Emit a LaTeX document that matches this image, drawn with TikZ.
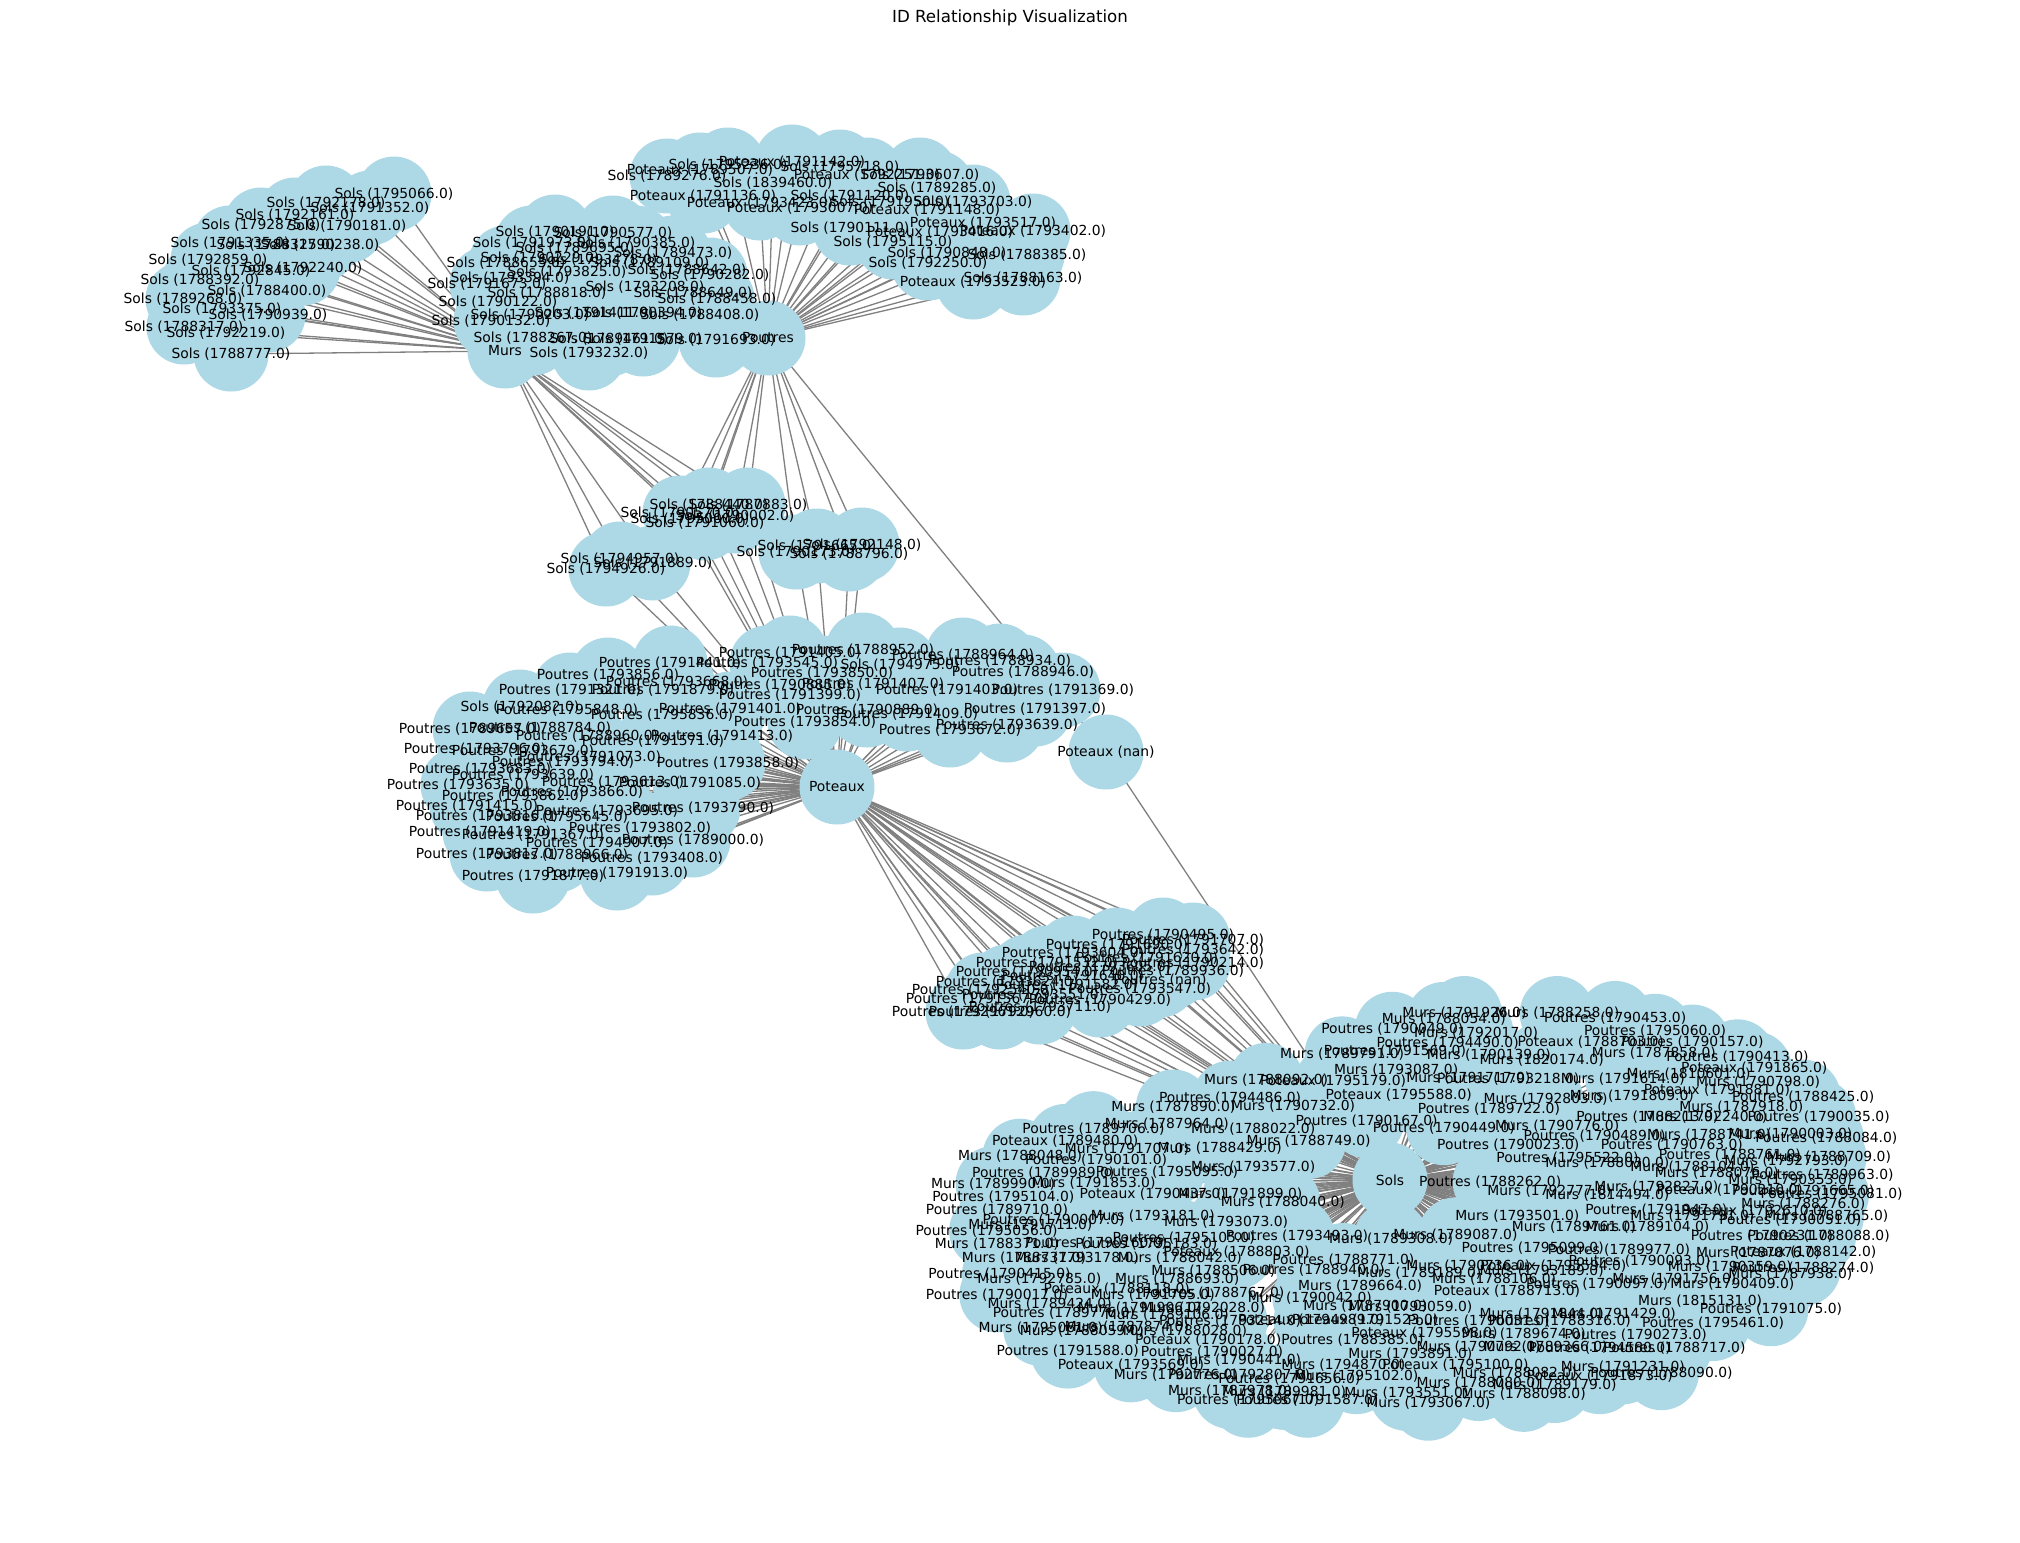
\documentclass[tikz,border=0pt]{standalone}
\usepackage{fontspec}
\setmainfont{DejaVu Sans}
\definecolor{nodeblue}{HTML}{ADD8E6}
\definecolor{edgegray}{HTML}{808080}
\tikzset{
  circ/.style={circle,fill=nodeblue,draw=none,minimum size=37.5pt,inner sep=0pt},
  lbl/.style={inner sep=0pt,text=black,font=\fontsize{6.94}{7}\selectfont},
  edge/.style={draw=edgegray,line width=0.65pt},
  ttl/.style={inner sep=0pt,font=\fontsize{8.33}{9}\selectfont}
}
\def\typeS{Sols}\def\typeP{Poutres}\def\typeM{Murs}\def\typeT{Poteaux}
\newcommand{\defpts}[2]{\foreach \px/\py/\pt/\pid [count=\pc] in #2 {\coordinate (#1\pc) at (\px,\py);}}
\newcommand{\drawedges}[3]{\foreach \px/\py/\pt/\pid [count=\pc] in #2 {\foreach \hh in {#3} {\draw[edge] (#1\pc) -- (\hh);}}}
\newcommand{\drawcircs}[2]{\foreach \px/\py/\pt/\pid [count=\pc] in #2 {\node[circ] (c#1\pc) at (#1\pc) {};}}
\newcommand{\drawlabels}[2]{\foreach \px/\py/\pt/\pid [count=\pc] in #2 {\node[lbl] (l#1\pc) at (#1\pc) {\csname type\pt\endcsname\ (\pid)};}}
% cluster data
\def\listA{394/194/S/1795066.0, 326/203/S/1792178.0, 370/208/S/1791352.0, 295/215/S/1792161.0, 261/225/S/1792875.0, 347/226/S/1790181.0, 230/243/S/1791335.0, 276/245/S/1788325.0, 320/245/S/1790238.0, 208/260/S/1792859.0, 251/271/S/1792845.0, 303/268/S/1792240.0, 200/280/S/1788392.0, 267/291/S/1788400.0, 183/299/S/1789268.0, 222/309/S/1793375.0, 268/315/S/1790939.0, 184/327/S/1788317.0, 226/333/S/1792219.0, 231/354/S/1788777.0}
\def\listB{555/232/S/1790191.0, 613/233/S/1790577.0, 532/243/S/1791973.0, 636/243/S/1790385.0, 575/248/S/1789695.0, 673/253/S/1789473.0, 506/263/S/1788655.0, 540/258/S/1790229.0, 598/260/S/1793478.0, 650/263/S/1789109.0, 510/278/S/1793394.0, 567/272/S/1793825.0, 687/270/S/1788642.0, 487/284/S/1791673.0, 645/287/S/1793208.0, 710/275/S/1790282.0, 547/293/S/1788818.0, 693/293/S/1788649.0, 498/302/S/1790122.0, 717/299/S/1788458.0, 491/321/S/1790132.0, 530/315/S/1790203.0, 594/313/S/1791411.0, 643/313/S/1790394.0, 700/315/S/1788408.0, 533/338/S/1788267.0, 609/339/S/1789461.0, 643/339/S/1791579.0, 716/340/S/1791693.0, 589/353/S/1793232.0}
\def\listC{792/162/T/1791142.0, 728/165/S/1795236.0, 700/170/T/1789507.0, 840/167/S/1795718.0, 667/176/S/1789276.0, 867/175/T/1792251.0, 920/175/S/1793607.0, 773/183/S/1839460.0, 937/188/S/1789285.0, 703/196/T/1791136.0, 850/196/S/1791120.0, 760/203/T/1793423.0, 890/202/S/1791950.0, 973/202/S/1793703.0, 800/208/T/1793007.0, 927/210/T/1791148.0, 983/223/T/1793517.0, 850/228/S/1790111.0, 940/232/T/1793416.0, 1033/231/T/1793402.0, 893/242/S/1795115.0, 947/253/S/1790848.0, 1027/255/S/1788385.0, 928/263/S/1792250.0, 1023/278/S/1788163.0, 973/282/T/1793523.0}
\def\listD{709/505/S/1788440.0, 748/505/S/1787883.0, 680/513/S/1790570.0, 735/516/S/1790002.0, 705/523/S/1791060.0, 690/519/S/1795000.0}
\def\listDL{620/559/S/1794957.0, 653/563/S/1791889.0, 606/569/S/1794926.0}
\def\listDR{862/545/S/1792148.0, 817/546/S/1791665.0, 849/554/S/1788796.0, 796/552/S/1790173.0}
\def\listE{670/663/P/1791441.0, 767/663/P/1793545.0, 790/653/P/1791405.0, 863/650/P/1788952.0, 963/655/P/1788964.0, 900/665/S/1794975.0, 1000/661/P/1788934.0, 822/673/P/1793850.0, 1023/672/P/1788946.0, 873/684/P/1791407.0, 780/685/P/1790885.0, 790/695/P/1791399.0, 947/690/P/1791403.0, 1063/690/P/1791369.0, 867/710/P/1790889.0, 907/714/P/1791409.0, 1035/709/P/1791397.0, 805/722/P/1793854.0, 1007/725/P/1793639.0, 950/730/P/1793672.0, 722/736/P/1791413.0, 608/675/P/1793856.0, 677/682/P/1793668.0, 570/690/P/1791321.0, 663/690/P/1791879.0, 730/709/P/1791401.0, 520/707/S/1792082.0, 567/710/P/1795848.0, 662/715/P/1795836.0, 540/728/P/1788784.0, 587/736/P/1788960.0, 653/741/P/1791571.0, 470/729/P/1789657.0, 475/749/P/1793796.0, 523/751/P/1793679.0, 590/757/P/1791073.0, 563/762/P/1793794.0, 728/763/P/1793858.0, 480/769/P/1793683.0, 523/775/P/1793639.0, 458/785/P/1793635.0, 613/782/P/1793613.0, 690/783/P/1791085.0, 572/792/P/1793866.0, 513/796/P/1793862.0, 703/808/P/1793790.0, 467/806/P/1791415.0, 607/811/P/1793695.0, 557/817/P/1795645.0, 487/816/P/1793816.0, 640/828/P/1793802.0, 480/832/P/1791419.0, 533/835/P/1791367.0, 597/843/P/1794907.0, 693/840/P/1789000.0, 487/854/P/1793817.0, 557/855/P/1788966.0, 652/858/P/1793408.0, 533/876/P/1791877.0, 617/873/P/1791913.0}
\def\listF{1163/935/P/1790495.0, 1193/940/P/1791707.0, 1117/945/P/1791690.0, 1193/950/P/1793642.0, 1073/953/P/1793604.0, 1147/958/P/1791620.0, 1193/963/P/1790214.0, 1047/963/P/1791532.0, 1100/967/P/1793605.0, 1173/971/P/1789936.0, 1027/972/P/1790954.0, 1073/976/P/1791640.0, 1160/980/P/nan, 1007/982/P/1793624.0, 1067/985/P/1791582.0, 1140/989/P/1793547.0, 983/990/P/1792540.0, 1033/995/P/1793551.0, 1100/1000/P/1790429.0, 977/999/P/1791567.0, 1040/1007/P/1793711.0, 1000/1012/P/1792960.0, 963/1012/P/1792961.0}
\def\listG{1137/1030/M/1791926.0, 1209/1030/M/1788258.0, 1254/1035/P/1790453.0, 1121/1036/M/1788054.0, 1081/1046/P/1790049.0, 1285/1048/P/1795060.0, 1146/1050/M/1792017.0, 1235/1059/T/1788703.0, 1314/1059/P/1790157.0, 1124/1060/P/1794490.0, 1083/1068/P/1791569.0, 1042/1071/M/1789791.0, 1156/1072/M/1790139.0, 1197/1077/M/1820174.0, 1284/1070/M/1787858.0, 1349/1074/P/1790413.0, 1362/1086/T/1791865.0, 1084/1088/M/1793087.0, 1140/1096/M/1791717.0, 1171/1097/P/1793218.0, 1260/1097/M/1791614.0, 1311/1092/M/1810601.0, 1365/1100/M/1790798.0, 1086/1113/T/1795588.0, 1200/1117/M/1792803.0, 1267/1114/M/1791809.0, 1333/1108/T/1791881.0, 1400/1115/P/1788425.0, 1156/1127/P/1789722.0, 1352/1125/M/1787918.0, 1061/1139/P/1790167.0, 1121/1146/P/1790449.0, 1209/1144/M/1790776.0, 1279/1135/P/1788213.0, 1324/1135/M/1792240.0, 1412/1135/P/1790035.0, 1171/1164/P/1790023.0, 1238/1155/P/1790489.0, 1327/1154/M/1788741.0, 1390/1153/M/1790003.0, 1418/1157/P/1788084.0, 1298/1164/P/1790763.0, 1217/1177/P/1795522.0, 1343/1174/P/1788761.0, 1420/1176/M/1788709.0, 1248/1182/M/1788030.0, 1314/1186/M/1788104.0, 1387/1180/M/1792793.0, 1333/1192/M/1788076.0, 1415/1194/P/1789963.0, 1157/1201/P/1788262.0, 1390/1199/M/1790353.0, 1203/1210/M/1792777.0, 1286/1206/M/1792827.0, 1343/1209/T/1790210.0, 1400/1210/P/1791665.0, 1422/1214/P/1795081.0, 1248/1215/M/1814494.0, 1400/1224/M/1788276.0, 1286/1230/P/1791947.0, 1362/1231/T/1792610.0, 1418/1236/M/1788765.0, 1178/1236/M/1793501.0, 1314/1236/M/1791791.0, 1390/1240/P/1790051.0, 1222/1247/M/1789761.0, 1279/1247/M/1789104.0, 1130/1255/M/1789087.0, 1080/1259/M/1789308.0, 1368/1256/P/1790231.0, 1412/1256/P/1788088.0, 1190/1268/P/1795099.0, 1257/1270/P/1789977.0, 1365/1274/M/1787876.0, 1400/1272/T/1788142.0, 1140/1287/M/1790736.0, 1206/1287/T/1795594.0, 1273/1282/P/1790093.0, 1343/1288/M/1790359.0, 1400/1289/P/1788274.0, 1102/1294/M/1789189.0, 1197/1292/M/1793189.0, 983/1098/M/1788092.0, 1035/1099/T/1795179.0, 955/1116/P/1794486.0, 911/1125/M/1787890.0, 1004/1124/M/1790732.0, 849/1147/P/1789706.0, 906/1142/M/1787964.0, 973/1147/M/1788022.0, 827/1160/T/1789480.0, 1016/1160/M/1788749.0, 875/1168/M/1791707.0, 947/1167/M/1788429.0, 792/1175/M/1788048.0, 851/1179/P/1790101.0, 810/1192/P/1789989.0, 906/1191/P/1795095.0, 973/1186/M/1793577.0, 771/1203/M/1789990.0, 849/1202/M/1791853.0, 779/1217/P/1795104.0, 895/1214/T/1790437.0, 963/1214/M/1791899.0, 996/1222/M/1788040.0, 774/1230/P/1789710.0, 818/1240/P/1790007.0, 895/1236/M/1793181.0, 952/1242/M/1793073.0, 766/1251/P/1795056.0, 800/1245/M/1791711.0, 919/1258/P/1795105.0, 1007/1256/P/1793493.0, 774/1264/M/1788371.0, 851/1263/P/1790160.0, 890/1264/P/1795183.0, 960/1272/T/1788803.0, 795/1279/M/1788737.0, 836/1279/M/1793178.0, 916/1279/M/1788042.0, 1043/1281/P/1788771.0, 776/1295/P/1790415.0, 942/1292/M/1788506.0, 1020/1291/P/1788940.0, 807/1300/M/1792785.0, 914/1300/M/1788693.0, 1056/1307/M/1789664.0, 867/1310/T/1788118.0, 774/1316/P/1790017.0, 895/1316/M/1791705.0, 942/1314/P/1788767.0, 1017/1319/M/1790042.0, 815/1325/M/1789424.0, 885/1329/M/1791906.0, 934/1329/M/1792028.0, 826/1334/P/1789776.0, 906/1336/M/1789106.0, 1060/1327/M/1787900.0, 1095/1328/M/1793059.0, 1197/1335/M/1791844.0, 1253/1335/M/1791429.0, 808/1350/M/1795061.0, 875/1349/M/1787874.0, 955/1343/P/1793214.0, 1018/1342/T/1794989.0, 1060/1342/T/1791523.0, 1148/1343/P/1790031.0, 1211/1343/P/1788316.0, 840/1353/M/1788059.0, 920/1353/M/1788028.0, 1106/1355/T/1795598.0, 1183/1356/M/1789674.0, 1270/1357/P/1790273.0, 938/1362/T/1790178.0, 1050/1362/P/1788385.0, 829/1373/P/1791588.0, 941/1374/P/1790027.0, 1148/1369/M/1790792.0, 1200/1369/M/1789366.0, 1242/1370/P/1794580.0, 878/1387/T/1793569.0, 962/1382/M/1790441.0, 1043/1387/M/1794870.0, 1095/1376/M/1793891.0, 1130/1387/T/1795100.0, 1260/1389/M/1791231.0, 1176/1395/M/1788082.0, 1242/1399/T/1791873.0, 913/1397/M/1792776.0, 962/1397/P/1792807.0, 1001/1402/P/1791656.0, 1053/1399/M/1795102.0, 1148/1406/M/1788080.0, 1207/1408/M/1789179.0, 955/1414/M/1787978.0, 997/1415/M/1789981.0, 1092/1416/M/1793551.0, 1183/1417/M/1788098.0, 1015/1423/P/1791587.0, 1109/1426/M/1793067.0, 969/1423/P/1795067.0, 1240/1305/P/1790097.0, 1300/1300/M/1791756.0, 1345/1305/M/1790409.0, 1390/1295/M/1787938.0, 1375/1330/P/1791075.0, 1320/1322/M/1815131.0, 1330/1345/P/1795461.0, 1300/1370/P/1788717.0, 1290/1395/P/1788090.0, 1170/1312/T/1788713.0, 1160/1300/M/1788106.0}
\begin{document}
\begin{tikzpicture}[x=0.5pt,y=-0.5pt]
\useasboundingbox (0,0) rectangle (2020,1543);
\fill[white] (0,0) rectangle (2020,1543);
\node[ttl] (title) at (1010,18) {ID Relationship Visualization};
% hub positions
\coordinate (Murs) at (505,351);
\coordinate (Poutres) at (768,338);
\coordinate (Poteaux) at (837,787);
\coordinate (Nan) at (1106,752);
\coordinate (Sols) at (1390,1180);
% node positions
\defpts{A}{\listA}
\defpts{B}{\listB}
\defpts{C}{\listC}
\defpts{D}{\listD}
\defpts{DL}{\listDL}
\defpts{DR}{\listDR}
\defpts{E}{\listE}
\defpts{F}{\listF}
\begin{scope}[x=0.644pt,y=-0.492pt]
\defpts{G}{\listG}
\end{scope}
% edges (below the nodes)
\draw[edge] (Poutres) -- (Nan);
\draw[edge] (Nan) -- (Sols);
\drawedges{A}{\listA}{Murs}
\drawedges{B}{\listB}{Murs,Poutres}
\drawedges{C}{\listC}{Poutres}
\drawedges{D}{\listD}{Murs,Poutres,Poteaux}
\drawedges{DL}{\listDL}{Murs,Poteaux}
\drawedges{DR}{\listDR}{Poutres,Poteaux}
\drawedges{E}{\listE}{Poteaux}
\drawedges{F}{\listF}{Poteaux,Sols}
\drawedges{G}{\listG}{Sols}
% node discs
\node[circ] (cMurs) at (Murs) {};
\node[circ] (cPoutres) at (Poutres) {};
\node[circ] (cPoteaux) at (Poteaux) {};
\node[circ] (cNan) at (Nan) {};
\node[circ] (cSols) at (Sols) {};
\drawcircs{A}{\listA}
\drawcircs{B}{\listB}
\drawcircs{C}{\listC}
\drawcircs{D}{\listD}
\drawcircs{DL}{\listDL}
\drawcircs{DR}{\listDR}
\drawcircs{E}{\listE}
\drawcircs{F}{\listF}
\drawcircs{G}{\listG}
% labels
\node[lbl] (lMurs) at (Murs) {Murs};
\node[lbl] (lPoutres) at (Poutres) {Poutres};
\node[lbl] (lPoteaux) at (Poteaux) {Poteaux};
\node[lbl] (lNan) at (Nan) {Poteaux (nan)};
\node[lbl] (lSols) at (Sols) {Sols};
\drawlabels{A}{\listA}
\drawlabels{B}{\listB}
\drawlabels{C}{\listC}
\drawlabels{D}{\listD}
\drawlabels{DL}{\listDL}
\drawlabels{DR}{\listDR}
\drawlabels{E}{\listE}
\drawlabels{F}{\listF}
\drawlabels{G}{\listG}
\end{tikzpicture}
\end{document}
